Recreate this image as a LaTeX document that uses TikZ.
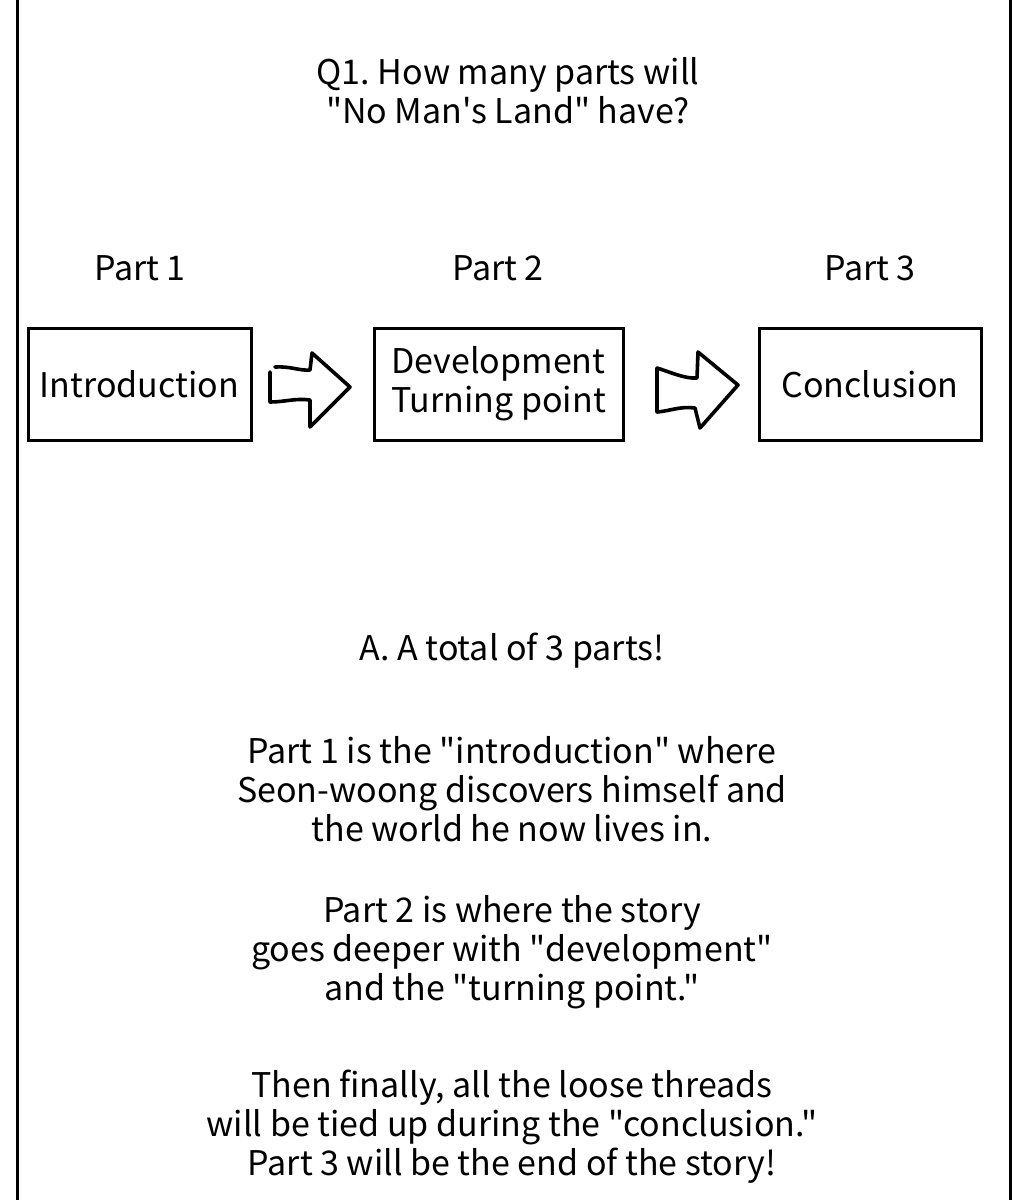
\documentclass[tikz,border=0pt]{standalone}
\usepackage{fontspec}
\setmainfont{Noto Sans CJK KR}[Ligatures=TeXOff]
\frenchspacing
\begin{document}
\begin{tikzpicture}[x=1pt,y=-1pt,
  txt/.style={align=center,inner sep=0pt,font=\fontsize{34}{39}\selectfont},
  stage/.style={draw,line width=3pt,inner sep=0pt},
  handarrow/.style={line width=3.6pt,line join=round,line cap=round}]
\useasboundingbox (0,0) rectangle (1024,1200);
\draw[line width=3pt] (17,0) -- (17,1200);
\draw[line width=3pt] (1010,0) -- (1010,1200);

\node[txt] (q) at (508,91) {Q1. How many parts will\\"No Man's Land" have?};

\node[txt] (p1) at (140,268) {Part 1};
\node[txt] (p2) at (498,268) {Part 2};
\node[txt] (p3) at (870,268) {Part 3};

\node[stage,minimum width=223pt,minimum height=112pt] (b1) at (139.5,384) {};
\node[stage,minimum width=249pt,minimum height=112pt] (b2) at (498.5,384) {};
\node[stage,minimum width=222pt,minimum height=112pt] (b3) at (870,384) {};
\node[txt] (t1) at (b1) {Introduction};
\node[txt] (t2) at (b2) {Development\\Turning point};
\node[txt] (t3) at (b3) {Conclusion};

% hand-drawn arrows
\draw[handarrow] (275,367) .. controls (290,366) and (300,371) .. (310,370)
  -- (312,353) -- (350,387) -- (310,427) -- (310,400)
  .. controls (295,398) and (285,402) .. (270,402) -- (270,372);
\draw[handarrow] (657,368) .. controls (670,372) and (685,379) .. (697,378)
  -- (698,352) -- (738,385) -- (700,428) -- (695,408)
  .. controls (680,406) and (670,411) .. (657,412) -- (657,368);

\node[txt] (a) at (512,651) {A. A total of 3 parts!};
\node[txt] (para1) at (512,789) {Part 1 is the "introduction" where\\Seon-woong discovers himself and\\the world he now lives in.};
\node[txt] (para2) at (512,952) {Part 2 is where the story\\goes deeper with "development"\\and the "turning point."};
\node[txt] (para3) at (512,1127) {Then finally, all the loose threads\\will be tied up during the "conclusion."\\Part 3 will be the end of the story!};
\end{tikzpicture}
\end{document}
